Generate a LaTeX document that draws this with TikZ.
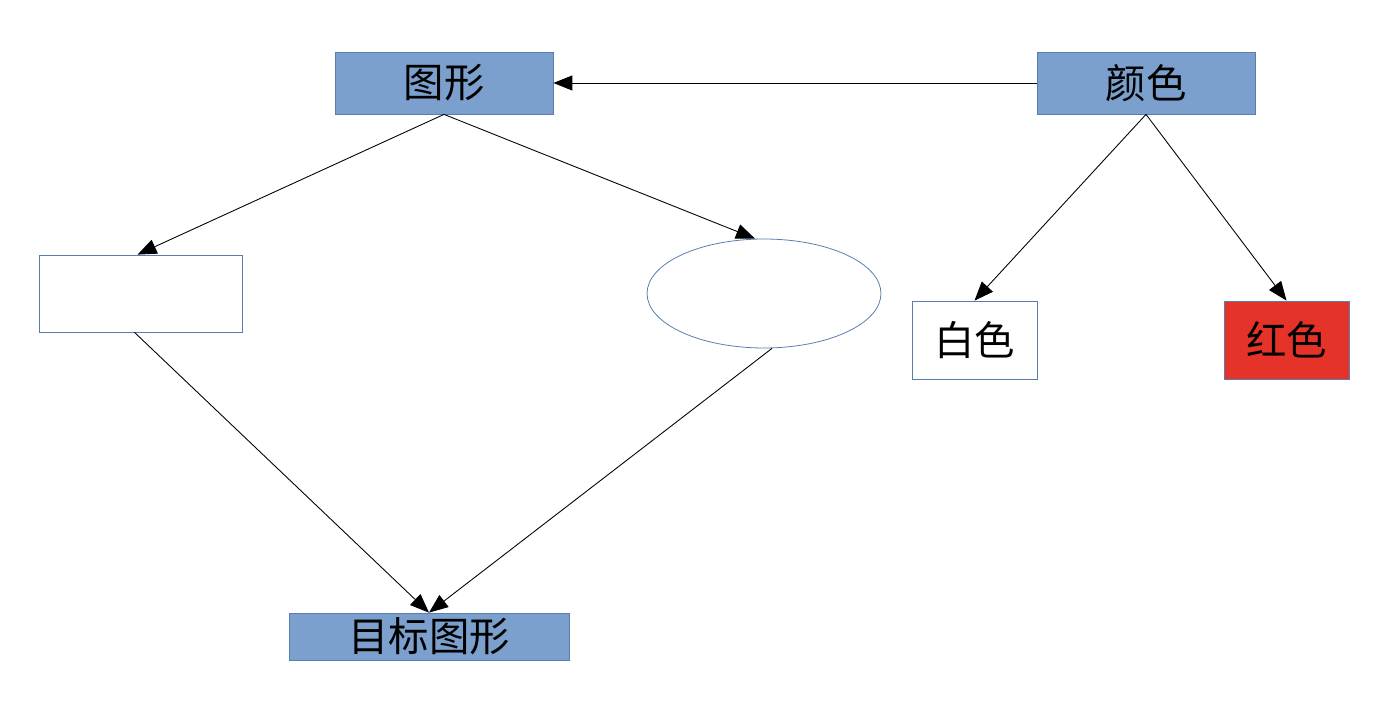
\documentclass[tikz,border=0pt]{standalone}
\usepackage{fontspec}
\setmainfont{Noto Sans CJK SC}
\usepackage{xcolor}
\usetikzlibrary{shapes.geometric, arrows.meta, positioning}
\definecolor{boxblue}{HTML}{7BA0CD}
\definecolor{boxedge}{HTML}{5A7DB0}
\definecolor{boxred}{HTML}{E5332A}

\begin{document}
\begin{tikzpicture}[
    x=0.02cm, y=-0.02cm,
    box/.style={rectangle, draw=boxedge, fill=#1, line width=0.45pt,
                inner sep=0pt, font=\fontsize{23}{27}\selectfont},
    arrow/.style={-{Triangle[length=0.38cm, width=0.3cm]}, black, line width=0.5pt}
]
\useasboundingbox (0,0) rectangle (1400,702);

% Top row
\node[box=boxblue, minimum width=4.36cm, minimum height=1.24cm] (shape) at (444,83) {图形};
\node[box=boxblue, minimum width=4.36cm, minimum height=1.24cm] (color) at (1146,83) {颜色};

% Shape kinds
\node[box=white, minimum width=4.06cm, minimum height=1.54cm] (rectbox) at (140.5,293.5) {};
\node[ellipse, draw=boxedge, line width=0.45pt, inner sep=0pt,
      minimum width=4.68cm, minimum height=2.18cm] (oval) at (764,293.5) {};

% Colour kinds
\node[box=white, minimum width=2.5cm, minimum height=1.56cm] (white) at (974.5,340) {白色};
\node[box=boxred, minimum width=2.5cm, minimum height=1.56cm] (red) at (1286.5,340) {红色};

% Target
\node[box=boxblue, minimum width=5.6cm, minimum height=0.94cm] (target) at (429,636.5) {目标图形};

% Arrows
\draw[arrow] (color.west) -- (shape.east);
\draw[arrow] (shape.south) -- ([xshift=-0.06cm]rectbox.north);
\draw[arrow] (shape.south) -- ([xshift=-0.18cm]oval.north);
\draw[arrow] (color.south) -- (white.north);
\draw[arrow] (color.south) -- (red.north);
\draw[arrow] ([xshift=-0.12cm]rectbox.south) -- (target.north);
\draw[arrow] ([xshift=0.16cm]oval.south) -- (target.north);

\end{tikzpicture}
\end{document}
